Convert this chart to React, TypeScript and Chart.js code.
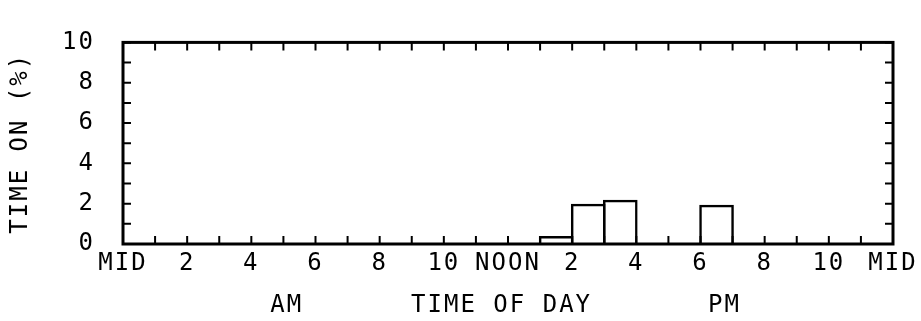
import React, { useEffect, useRef } from 'react';
import { Chart, registerables } from 'chart.js';

Chart.register(...registerables);

// Hour-of-day bins (start hour of each 1-hour bin)
const hourStarts = [0, 1, 2, 3, 4, 5, 6, 7, 8, 9, 10, 11, 12, 13, 14, 15, 16, 17, 18, 19, 20, 21, 22, 23];
// Percentage of time on, per hour bin
const timeOnPct = [0, 0, 0, 0, 0, 0, 0, 0, 0, 0, 0, 0, 0, 0.4, 2.0, 2.2, 0, 0, 1.95, 0, 0, 0, 0, 0];

// Tick labels
const xTickHours = [0, 2, 4, 6, 8, 10, 12, 14, 16, 18, 20, 22, 24];
const xTickLabels = ['MID', '2', '4', '6', '8', '10', 'NOON', '2', '4', '6', '8', '10', 'MID'];
const yTickValues = [0, 2, 4, 6, 8, 10];
const yTickLabels = ['0', '2', '4', '6', '8', '10'];

const yTitle = 'TIME ON (%)';
const xTitle = 'TIME OF DAY';
const amLabel = 'AM';
const pmLabel = 'PM';
const amHour = 5.1;
const xTitleHour = 11.8;
const pmHour = 18.75;

const FONT_FAMILY = '"DejaVu Sans Mono", "Liberation Mono", monospace';
const FONT_SIZE = 24;
const LETTER_SPACING = '2px';

export default function App() {
  const canvasRef = useRef<HTMLCanvasElement | null>(null);

  useEffect(() => {
    document.body.style.margin = '0';
    document.body.style.overflow = 'hidden';
    const canvas = canvasRef.current;
    if (!canvas) return;

    const framePlugin = {
      id: 'frameAndTicks',
      beforeDraw(chart: any) {
        (chart.ctx as any).letterSpacing = LETTER_SPACING;
      },
      afterDraw(chart: any) {
        const { ctx, chartArea, scales } = chart;
        const { left, right, top, bottom } = chartArea;
        const xs = scales.x;
        const ys = scales.y;
        ctx.save();
        ctx.strokeStyle = '#000';
        ctx.lineWidth = 3;
        ctx.strokeRect(left, top, right - left, bottom - top);
        ctx.lineWidth = 2;
        ctx.beginPath();
        xs.ticks.forEach((t: any) => {
          const px = xs.getPixelForValue(t.value);
          ctx.moveTo(px, bottom);
          ctx.lineTo(px, bottom - 8);
          ctx.moveTo(px, top);
          ctx.lineTo(px, top + 8);
        });
        ys.ticks.forEach((t: any) => {
          const py = ys.getPixelForValue(t.value);
          ctx.moveTo(left, py);
          ctx.lineTo(left + 8, py);
          ctx.moveTo(right, py);
          ctx.lineTo(right - 8, py);
        });
        ctx.stroke();

        (ctx as any).letterSpacing = LETTER_SPACING;
        ctx.fillStyle = '#000';
        ctx.font = `${FONT_SIZE}px ${FONT_FAMILY}`;
        ctx.textAlign = 'center';
        ctx.textBaseline = 'middle';
        const ty = bottom + 62;
        ctx.fillText(amLabel, xs.getPixelForValue(amHour), ty);
        ctx.fillText(xTitle, xs.getPixelForValue(xTitleHour), ty);
        ctx.fillText(pmLabel, xs.getPixelForValue(pmHour), ty);
        ctx.restore();
      },
    };

    const chart = new Chart(canvas, {
      type: 'bar',
      data: {
        datasets: [
          {
            data: hourStarts.map((h, i) => ({ x: h + 0.5, y: timeOnPct[i] })),
            backgroundColor: 'rgba(255,255,255,0)',
            borderColor: '#000',
            borderWidth: 2.5,
            borderSkipped: 'bottom',
            barPercentage: 1.08,
            categoryPercentage: 1,
            grouped: false,
          },
        ],
      },
      options: {
        responsive: false,
        animation: false,
        devicePixelRatio: 1,
        layout: { padding: { left: 0, top: 21, right: 28, bottom: 0 } },
        plugins: {
          legend: { display: false },
          tooltip: { enabled: false },
        },
        scales: {
          x: {
            type: 'linear',
            min: 0,
            max: 24,
            offset: false,
            grid: { display: false, drawTicks: false },
            border: { display: false },
            ticks: {
              stepSize: 1,
              autoSkip: false,
              maxRotation: 0,
              minRotation: 0,
              padding: 5,
              color: '#000',
              font: { family: FONT_FAMILY, size: FONT_SIZE },
              callback: (value: any) => {
                const idx = xTickHours.indexOf(Number(value));
                return idx >= 0 ? xTickLabels[idx] : '';
              },
            },
            afterFit: (scale: any) => {
              scale.height = 77;
            },
          },
          y: {
            type: 'linear',
            min: 0,
            max: 10,
            grid: { display: false, drawTicks: false },
            border: { display: false },
            ticks: {
              stepSize: 1,
              autoSkip: false,
              padding: 28,
              color: '#000',
              font: { family: FONT_FAMILY, size: FONT_SIZE },
              callback: (value: any) => {
                const idx = yTickValues.indexOf(Number(value));
                return idx >= 0 ? yTickLabels[idx] : '';
              },
            },
            title: {
              display: true,
              text: yTitle,
              color: '#000',
              font: { family: FONT_FAMILY, size: FONT_SIZE },
              padding: { top: 6, bottom: 0 },
            },
            afterFit: (scale: any) => {
              scale.width = 123;
            },
          },
        },
      },
      plugins: [framePlugin],
    });

    return () => {
      chart.destroy();
    };
  }, []);

  return (
    <div style={{ width: 921, height: 321, background: '#fff' }}>
      <canvas ref={canvasRef} width={921} height={321} style={{ display: 'block' }} />
    </div>
  );
}
